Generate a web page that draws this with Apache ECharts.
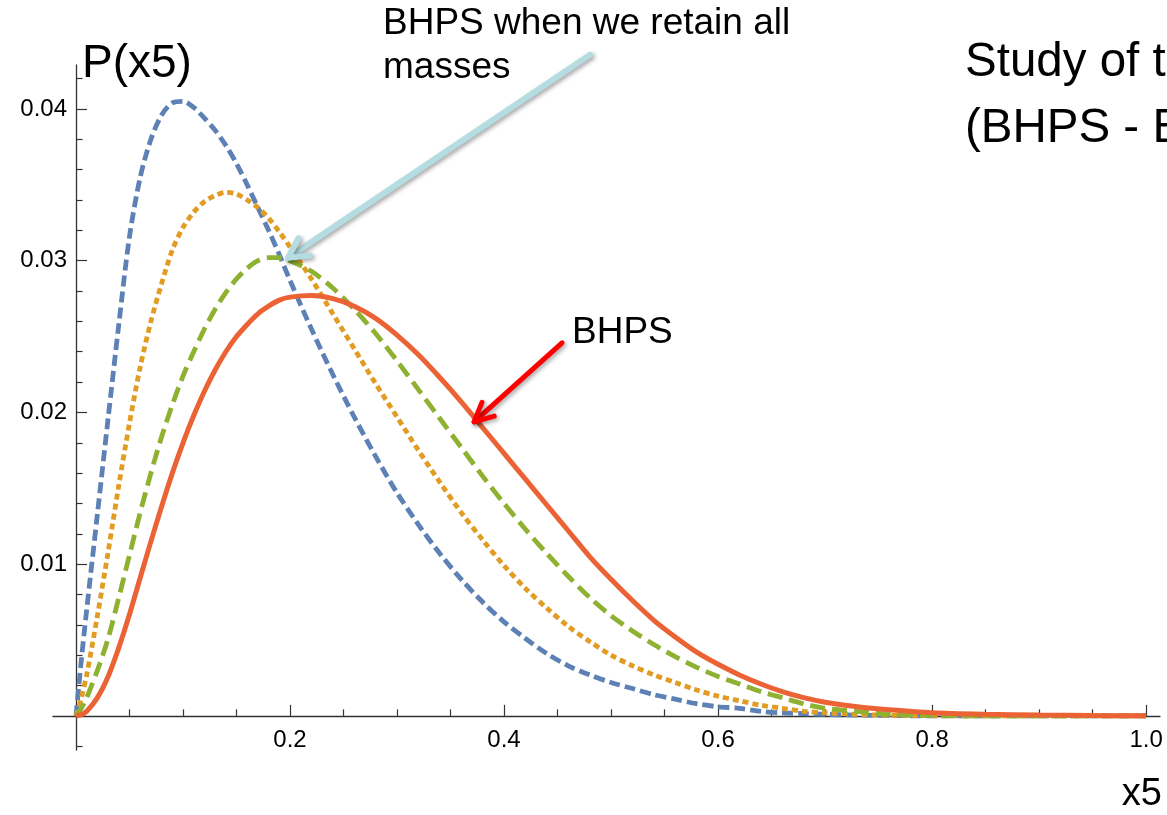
<!DOCTYPE html>
<html>
<head>
<meta charset="utf-8">
<script src="https://cdn.jsdelivr.net/npm/echarts@6/dist/echarts.min.js"></script>
<style>html,body{margin:0;padding:0;background:#fff}#c{width:1167px;height:815px}</style>
</head>
<body>
<div id="c"></div>
<script>
// ---- data ----
const xValues = [0, 0.005, 0.01, 0.02, 0.03, 0.04, 0.05, 0.06, 0.07, 0.08, 0.09, 0.10, 0.11, 0.12, 0.13, 0.14, 0.15, 0.16, 0.17, 0.18, 0.19, 0.20,
  0.22, 0.24, 0.26, 0.28, 0.30, 0.32, 0.34, 0.36, 0.38, 0.40, 0.42, 0.44, 0.46, 0.48, 0.50, 0.52, 0.54, 0.56, 0.58, 0.60,
  0.62, 0.64, 0.66, 0.68, 0.70, 0.73, 0.76, 0.80, 0.85, 0.90, 0.95, 1.00];

const blueValues = [0, 0.0037, 0.0070, 0.0133, 0.0196, 0.0258, 0.0316, 0.0355, 0.0380, 0.0396, 0.0404, 0.0405, 0.0401, 0.0394, 0.0386, 0.0376, 0.0364, 0.0350, 0.0335, 0.0320, 0.0304, 0.0287,
  0.0255, 0.0225, 0.0197, 0.0171, 0.0147, 0.0126, 0.0107, 0.0090, 0.0075, 0.0062, 0.0051, 0.0041, 0.0033, 0.0027, 0.0022, 0.0018, 0.0014, 0.0011, 0.0008, 0.0006,
  0.0005, 0.0003, 0.0002, 0.00015, 0.0001, 0.00005, 0.00002, 0, 0, 0, 0, 0];

const orangeValues = [0, 0.0012, 0.0027, 0.0066, 0.0108, 0.0152, 0.0193, 0.0230, 0.0260, 0.0285, 0.0307, 0.0322, 0.0332, 0.0339, 0.0343, 0.0345, 0.0344, 0.0340, 0.0335, 0.0328, 0.0319, 0.0309,
  0.0288, 0.0265, 0.0242, 0.0219, 0.0197, 0.0175, 0.0154, 0.0134, 0.0116, 0.0099, 0.0084, 0.0071, 0.0059, 0.0049, 0.0040, 0.0033, 0.0027, 0.0022, 0.0017, 0.0013,
  0.0010, 0.0007, 0.0005, 0.0003, 0.0002, 0.0001, 0.00004, 0.00001, 0, 0, 0, 0];

const greenValues = [0, 0.0005, 0.0012, 0.0030, 0.0051, 0.0078, 0.0106, 0.0134, 0.0160, 0.0184, 0.0205, 0.0224, 0.0240, 0.0255, 0.0268, 0.0279, 0.0288, 0.0295, 0.0300, 0.0302, 0.0302, 0.0300,
  0.0293, 0.0282, 0.0268, 0.0252, 0.0234, 0.0215, 0.0196, 0.0177, 0.0158, 0.0140, 0.0123, 0.0107, 0.0092, 0.0078, 0.0066, 0.0056, 0.0047, 0.0039, 0.0032, 0.0026,
  0.0021, 0.0016, 0.0012, 0.0008, 0.0005, 0.0003, 0.0001, 0.00003, 0, 0, 0, 0];

const redValues = [0, 0.00008, 0.0003, 0.0012, 0.0026, 0.0045, 0.0067, 0.0091, 0.0115, 0.0138, 0.0160, 0.0180, 0.0198, 0.0214, 0.0228, 0.0240, 0.0250, 0.0258, 0.0265, 0.0270, 0.0274, 0.0276,
  0.0277, 0.0275, 0.0270, 0.0262, 0.0251, 0.0238, 0.0223, 0.0207, 0.0190, 0.0173, 0.0156, 0.0139, 0.0122, 0.0105, 0.0090, 0.0076, 0.0063, 0.0052, 0.0042, 0.0034,
  0.0027, 0.0021, 0.0016, 0.0012, 0.0009, 0.0006, 0.0004, 0.0002, 0.0001, 0.00005, 0.00002, 0];

const xMajorTicks = [0.2, 0.4, 0.6, 0.8, 1.0];
const xMinorTicks = [0.05, 0.1, 0.15, 0.25, 0.3, 0.35, 0.45, 0.5, 0.55, 0.65, 0.7, 0.75, 0.85, 0.9, 0.95];
const yMajorTicks = [0.01, 0.02, 0.03, 0.04];
const yMinorTicks = [-0.002, 0.002, 0.004, 0.006, 0.008, 0.012, 0.014, 0.016, 0.018, 0.022, 0.024, 0.026, 0.028, 0.032, 0.034, 0.036, 0.038, 0.042];

// annotation arrows, in data coordinates: [tail, tip]
const cyanArrow = [[0.4804, 0.04357], [0.1981, 0.03019]];
const redArrow = [[0.4542, 0.02459], [0.3720, 0.01938]];

// ---- chart ----
const FONT = '"Liberation Sans", Arial, Helvetica, sans-serif';
const X_MIN = -0.0215, X_MAX = 1.013, Y_MIN = -0.00225, Y_MAX = 0.0429;
const axisColor = '#333';

function pairs(ys) { return xValues.map((x, i) => [x, ys[i]]); }

const chart = echarts.init(document.getElementById('c'), null, {renderer: 'canvas'});

function xAxisDef(major) {
  return {
    type: 'value', min: X_MIN, max: X_MAX, position: 'bottom',
    axisLine: {show: major, onZero: true, onZeroAxisIndex: 0, lineStyle: {color: axisColor, width: 1.3}},
    axisTick: {show: true, inside: true, length: major ? 11 : 6.5, customValues: major ? xMajorTicks : xMinorTicks,
               lineStyle: {color: axisColor, width: 1.2}},
    axisLabel: major ? {show: true, customValues: xMajorTicks, formatter: v => Number(v).toFixed(1), margin: -22,
               fontSize: 24, color: '#000', fontFamily: FONT} : {show: false},
    splitLine: {show: false}
  };
}
function yAxisDef(major) {
  return {
    type: 'value', min: Y_MIN, max: Y_MAX, position: 'left',
    axisLine: {show: major, onZero: true, onZeroAxisIndex: 0, lineStyle: {color: axisColor, width: 1.3}},
    axisTick: {show: true, inside: true, length: major ? 11 : 6.5, customValues: major ? yMajorTicks : yMinorTicks,
               lineStyle: {color: axisColor, width: 1.2}},
    axisLabel: major ? {show: true, customValues: yMajorTicks, formatter: v => Number(v).toFixed(2), margin: -14,
               fontSize: 24, color: '#000', fontFamily: FONT} : {show: false},
    splitLine: {show: false}
  };
}

function lineSeries(name, ys, color, width, dash, z) {
  return {
    name: name, type: 'line', data: pairs(ys), xAxisIndex: 0, yAxisIndex: 0,
    symbol: 'none', showSymbol: false, smooth: 0.3, z: z,
    lineStyle: {color: color, width: width, type: dash, cap: 'butt'}
  };
}

chart.setOption({
  animation: false,
  backgroundColor: '#fff',
  grid: {left: 53, right: 7, top: 65, bottom: 65, containLabel: false, outerBoundsMode: 'none'},
  xAxis: [xAxisDef(true), xAxisDef(false)],
  yAxis: [yAxisDef(true), yAxisDef(false)],
  series: [
    lineSeries('blue', blueValues, '#5E81B5', 4.8, [11, 5], 2),
    lineSeries('orange', orangeValues, '#E19C24', 4.8, [6, 4], 3),
    lineSeries('green', greenValues, '#8FB131', 4.8, [15, 7], 4),
    lineSeries('BHPS', redValues, '#EB6235', 5, 'solid', 5)
  ]
});

function arrowGraphics(arrow, color, width, headLen, headAngle) {
  const tail = chart.convertToPixel({gridIndex: 0}, arrow[0]);
  const tip = chart.convertToPixel({gridIndex: 0}, arrow[1]);
  const dx = tail[0] - tip[0], dy = tail[1] - tip[1];
  const len = Math.sqrt(dx * dx + dy * dy);
  const ux = dx / len, uy = dy / len;
  const a = headAngle * Math.PI / 180;
  const rot = (s) => [tip[0] + headLen * (ux * Math.cos(s * a) - uy * Math.sin(s * a)),
                      tip[1] + headLen * (ux * Math.sin(s * a) + uy * Math.cos(s * a))];
  const shadow = {shadowBlur: 4, shadowColor: 'rgba(0,0,0,0.35)', shadowOffsetX: 2, shadowOffsetY: 2};
  return [
    {type: 'polyline', z: 100, shape: {points: [tail, tip]},
     style: Object.assign({stroke: color, lineWidth: width, fill: null, lineCap: 'round'}, shadow)},
    {type: 'polyline', z: 100, shape: {points: [rot(1), tip, rot(-1)]},
     style: Object.assign({stroke: color, lineWidth: width, fill: null, lineCap: 'round', lineJoin: 'round'}, shadow)}
  ];
}

function label(text, x, baseline, size, align) {
  return {type: 'text', z: 110, style: {
    text: text, x: x, y: baseline - 0.35 * size,
    font: size + 'px ' + FONT, fill: '#000',
    align: align || 'left', textAlign: align || 'left',
    verticalAlign: 'middle', textVerticalAlign: 'middle'
  }};
}

chart.setOption({
  graphic: [].concat(
    arrowGraphics(cyanArrow, '#B5DCE0', 6, 22, 28),
    arrowGraphics(redArrow, '#FF0000', 5, 21, 26),
    [
      label('P(x5)', 82, 80, 46),
      label('x5', 1162, 808, 38, 'right'),
      label('BHPS when we retain all', 383, 37, 37),
      label('masses', 383, 81, 37),
      label('BHPS', 572, 346, 37),
      label('Study of the', 965, 80, 47.5),
      label('(BHPS - BHPS', 965, 146, 47.5)
    ]
  )
});
</script>
</body>
</html>
